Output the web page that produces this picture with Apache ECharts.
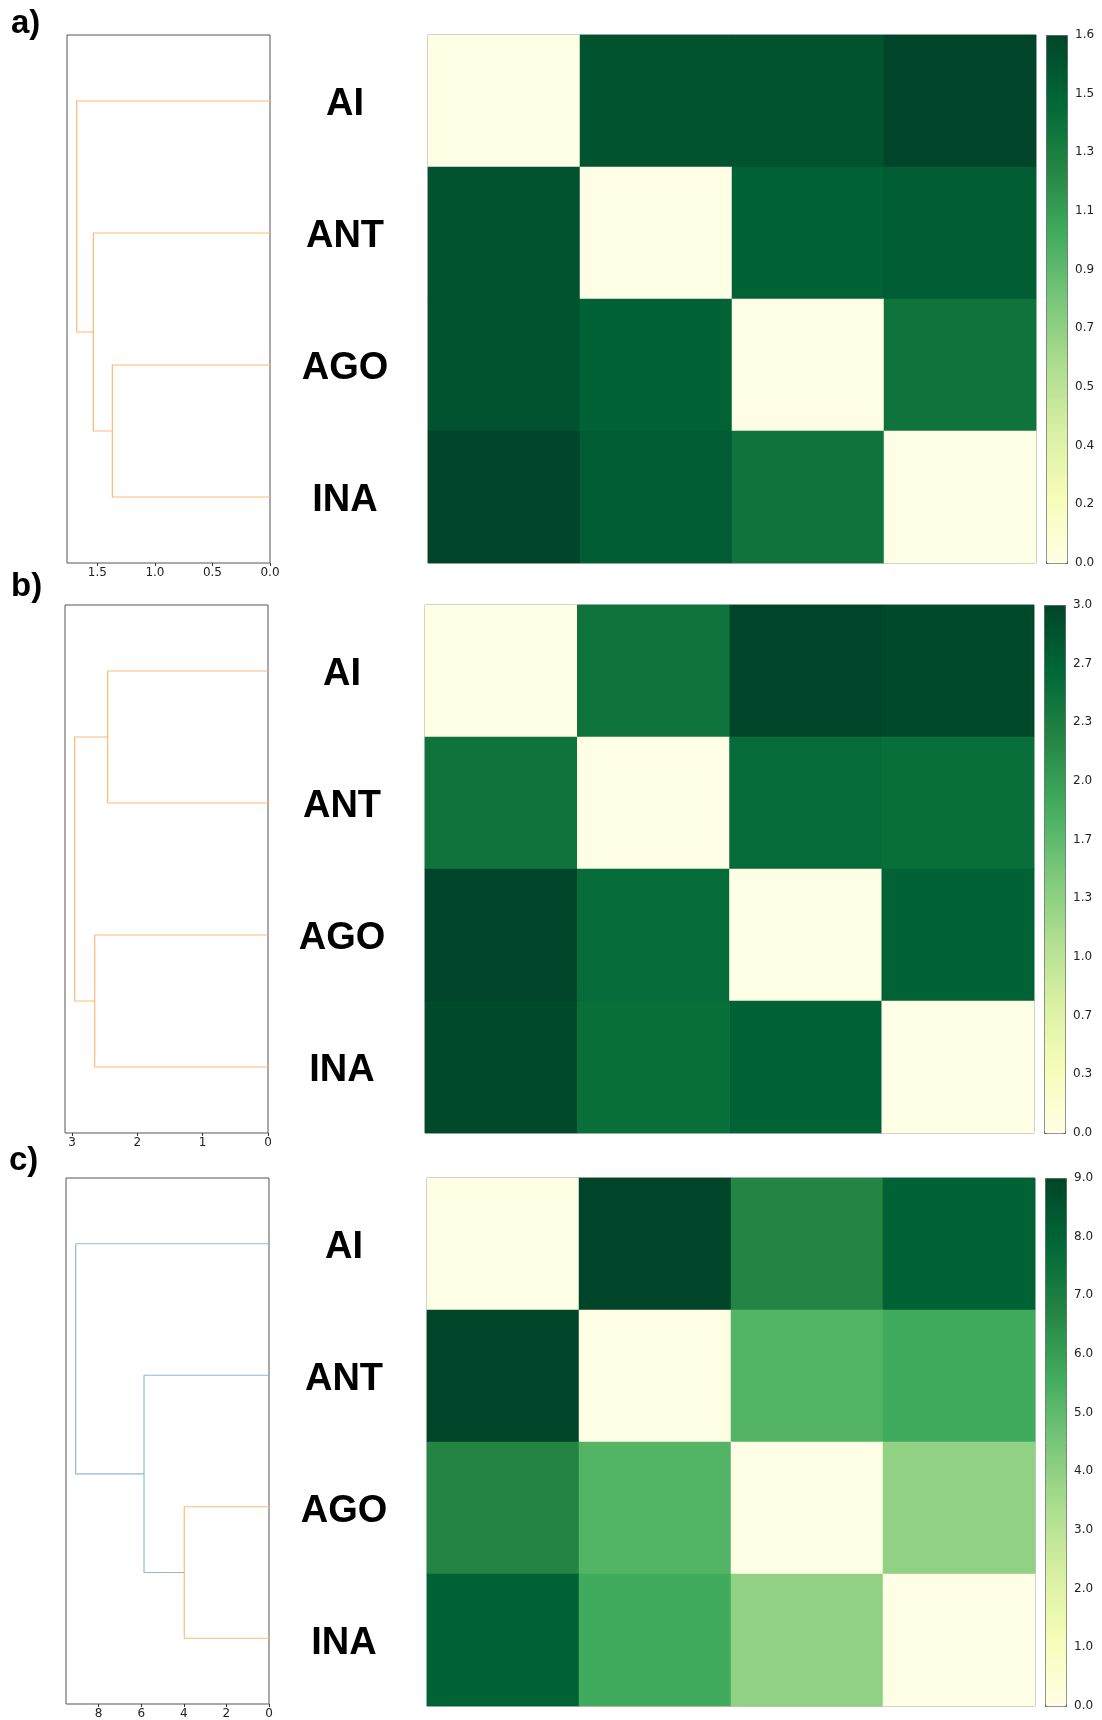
<!DOCTYPE html>
<html>
<head>
<meta charset="utf-8">
<script src="https://cdn.jsdelivr.net/npm/echarts@6/dist/echarts.min.js"></script>
<style>
html,body{margin:0;padding:0;background:#fff;}
#chart{width:1102px;height:1720px;}
</style>
</head>
<body>
<div id="chart"></div>
<script>
// ---------------- DATA ----------------
const LABELS = ['AI', 'ANT', 'AGO', 'INA'];
const PANEL_TAGS = ['a)', 'b)', 'c)'];

const MAT_A = [
  [0.00, 1.56, 1.56, 1.64],
  [1.56, 0.00, 1.47, 1.50],
  [1.56, 1.47, 0.00, 1.35],
  [1.64, 1.50, 1.35, 0.00]
];
const MAT_B = [
  [0.00, 2.46, 3.00, 2.95],
  [2.46, 0.00, 2.57, 2.53],
  [3.00, 2.57, 0.00, 2.69],
  [2.95, 2.53, 2.69, 0.00]
];
const MAT_C = [
  [0.00, 9.00, 6.75, 8.06],
  [9.00, 0.00, 5.25, 5.63],
  [6.75, 5.25, 0.00, 3.97],
  [8.06, 5.63, 3.97, 0.00]
];
const VMAX_A = 1.64, VMAX_B = 3.0, VMAX_C = 9.0;

const CB_TICKS_A = ['0.0', '0.2', '0.4', '0.5', '0.7', '0.9', '1.1', '1.3', '1.5', '1.6'];
const CB_TICKS_B = ['0.0', '0.3', '0.7', '1.0', '1.3', '1.7', '2.0', '2.3', '2.7', '3.0'];
const CB_TICKS_C = ['0.0', '1.0', '2.0', '3.0', '4.0', '5.0', '6.0', '7.0', '8.0', '9.0'];

// dendrogram: scipy-style icoord (leaf positions) / dcoord (distances)
const ICOORD_A = [[25, 25, 35, 35], [15, 15, 30, 30], [5, 5, 22.5, 22.5]];
const DCOORD_A = [[0, 1.37, 1.37, 0], [0, 1.535, 1.535, 1.37], [0, 1.68, 1.68, 1.535]];
const LINKCOL_A = ['C1', 'C1', 'C1'];

const ICOORD_B = [[5, 5, 15, 15], [25, 25, 35, 35], [10, 10, 30, 30]];
const DCOORD_B = [[0, 2.455, 2.455, 0], [0, 2.653, 2.653, 0], [2.455, 2.96, 2.96, 2.653]];
const LINKCOL_B = ['C1', 'C1', 'C1'];

const ICOORD_C = [[25, 25, 35, 35], [15, 15, 30, 30], [5, 5, 22.5, 22.5]];
const DCOORD_C = [[0, 3.98, 3.98, 0], [0, 5.87, 5.87, 3.98], [0, 9.08, 9.08, 5.87]];
const LINKCOL_C = ['C1', 'C0', 'C0'];

const DTICKS_A = [0, 0.5, 1.0, 1.5];
const DTICKS_B = [0, 1, 2, 3];
const DTICKS_C = [0, 2, 4, 6, 8];

// ---------------- STYLE / LAYOUT ----------------
const YLGN = ['#ffffe5', '#f7fcb9', '#d9f0a3', '#addd8e', '#78c679', '#41ab5d', '#238443', '#006837', '#004529'];
const LINK_COLORS = { C0: '#8fb9da', C1: '#ffb877' };
const TICK_FONT = 'DejaVu Sans';
const BIG_FONT = 'Liberation Sans';

const panels = [
  { tag: PANEL_TAGS[0], mat: MAT_A, vmax: VMAX_A, cb: CB_TICKS_A, ic: ICOORD_A, dc: DCOORD_A, lc: LINKCOL_A, dt: DTICKS_A, dec: 1,
    tagPos: [11, 7], top: 35, h: 528, dL: 67, dW: 203, hL: 428, hW: 608, cL: 1046, cW: 21 },
  { tag: PANEL_TAGS[1], mat: MAT_B, vmax: VMAX_B, cb: CB_TICKS_B, ic: ICOORD_B, dc: DCOORD_B, lc: LINKCOL_B, dt: DTICKS_B, dec: 0,
    tagPos: [11, 570], top: 605, h: 528, dL: 65, dW: 203, hL: 425, hW: 609, cL: 1044, cW: 21 },
  { tag: PANEL_TAGS[2], mat: MAT_C, vmax: VMAX_C, cb: CB_TICKS_C, ic: ICOORD_C, dc: DCOORD_C, lc: LINKCOL_C, dt: DTICKS_C, dec: 0,
    tagPos: [9, 1144], top: 1178, h: 528, dL: 66, dW: 203, hL: 427, hW: 608, cL: 1045, cW: 21 }
];

const grid = [], xAxis = [], yAxis = [], series = [], visualMap = [], title = [];

panels.forEach((p, k) => {
  const gD = grid.length, gH = gD + 1, gC = gD + 2;
  grid.push({ left: p.dL, top: p.top, width: p.dW, height: p.h, show: true, borderColor: '#555', borderWidth: 1, backgroundColor: 'transparent' });
  grid.push({ left: p.hL, top: p.top, width: p.hW, height: p.h, show: true, borderColor: '#888', borderWidth: 1, backgroundColor: 'transparent' });
  grid.push({ left: p.cL, top: p.top, width: p.cW, height: p.h, show: false });

  let maxH = 0;
  p.dc.forEach(d => d.forEach(v => { if (v > maxH) maxH = v; }));

  // dendrogram axes
  xAxis.push({
    type: 'value', gridIndex: gD, inverse: true, min: 0, max: maxH * 1.05, position: 'bottom',
    splitLine: { show: false },
    axisLine: { show: false, onZero: false },
    axisTick: { show: true, length: 3, lineStyle: { color: '#333' }, customValues: p.dt },
    axisLabel: { show: true, margin: 4, fontSize: 12, fontFamily: TICK_FONT, color: '#222', customValues: p.dt,
      formatter: v => Number(v).toFixed(p.dec) }
  });
  yAxis.push({ type: 'value', gridIndex: gD, inverse: true, min: 0, max: 40, show: false, axisLine: { onZero: false } });

  // heatmap axes
  xAxis.push({ type: 'category', gridIndex: gH, data: LABELS, show: false });
  yAxis.push({
    type: 'category', gridIndex: gH, data: LABELS, inverse: true,
    axisLine: { show: false }, axisTick: { show: false }, splitLine: { show: false },
    axisLabel: {
      show: true, align: 'center', margin: 83, fontSize: 38, fontWeight: 'bold', fontFamily: BIG_FONT, color: '#000',
      formatter: v => '{l|' + v + '}',
      rich: { l: { fontSize: 38, fontWeight: 'bold', fontFamily: BIG_FONT, color: '#000', padding: [8, 0, 0, 0] } }
    }
  });

  // colorbar axes
  xAxis.push({ type: 'value', gridIndex: gC, show: false });
  yAxis.push({
    type: 'category', gridIndex: gC, data: p.cb, position: 'right', boundaryGap: false,
    axisLine: { show: false }, axisTick: { show: false }, splitLine: { show: false },
    axisLabel: { show: true, margin: 8, fontSize: 12, fontFamily: TICK_FONT, color: '#222', interval: 0 }
  });

  // dendrogram links
  p.ic.forEach((ys, i) => {
    const xs = p.dc[i];
    series.push({
      type: 'line', xAxisIndex: gD, yAxisIndex: gD, symbol: 'none', silent: true, animation: false,
      lineStyle: { color: LINK_COLORS[p.lc[i]], width: 1.2 },
      data: ys.map((y, j) => [xs[j], y])
    });
  });

  // heatmap
  const hd = [];
  p.mat.forEach((row, i) => row.forEach((v, j) => hd.push([j, i, v])));
  const sIdx = series.length;
  series.push({ type: 'heatmap', xAxisIndex: gH, yAxisIndex: gH, data: hd, animation: false, silent: true });

  visualMap.push({
    type: 'continuous', min: 0, max: p.vmax, seriesIndex: sIdx, orient: 'vertical',
    left: p.cL, top: p.top, itemWidth: p.cW, itemHeight: p.h, padding: 0,
    calculable: false, hoverLink: false, text: null,
    borderColor: '#555', borderWidth: 1,
    inRange: { color: YLGN }
  });

  title.push({
    text: p.tag, left: p.tagPos[0], top: p.tagPos[1], padding: 0,
    textStyle: { fontSize: 33, fontWeight: 'bold', fontFamily: BIG_FONT, color: '#000' }
  });
});

const chart = echarts.init(document.getElementById('chart'), null, { renderer: 'canvas' });
chart.setOption({ backgroundColor: '#fff', animation: false, title, grid, xAxis, yAxis, series, visualMap });
</script>
</body>
</html>
